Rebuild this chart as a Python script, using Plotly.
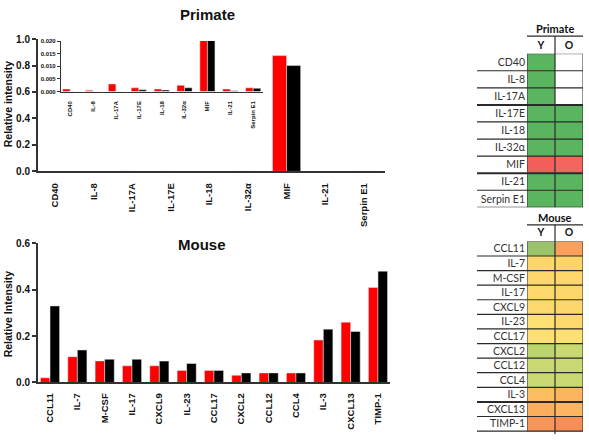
import plotly.graph_objects as go

W, H = 589, 440

# ---------------- data ----------------
primate_cats = ["CD40", "IL-8", "IL-17A", "IL-17E", "IL-18", "IL-32α", "MIF", "IL-21", "Serpin E1"]
primate_young = [0.0010, 0.0005, 0.0030, 0.0015, 0.0010, 0.0025, 0.875, 0.0010, 0.0015]
primate_old = [0.0, 0.0, 0.0, 0.0007, 0.0006, 0.0015, 0.800, 0.0003, 0.0013]

mouse_cats = ["CCL11", "IL-7", "M-CSF", "IL-17", "CXCL9", "IL-23", "CCL17",
              "CXCL2", "CCL12", "CCL4", "IL-3", "CXCL13", "TIMP-1"]
mouse_young = [0.020, 0.111, 0.093, 0.072, 0.072, 0.052, 0.052, 0.031, 0.041, 0.041, 0.183, 0.260, 0.410]
mouse_old = [0.330, 0.140, 0.100, 0.100, 0.092, 0.082, 0.052, 0.041, 0.041, 0.041, 0.230, 0.220, 0.480]

group_cols = ["Y", "O"]

RED, BLACK = "#ff0000", "#000000"
AX = "#333333"
BAR_FONT = "Liberation Sans"
TAB_FONT = "Lato"


def px_x(p):
    return p / W


def px_y(p):
    return 1 - p / H


fig = go.Figure()


def add_pair(cats, young, old, xa, ya, w):
    fig.add_trace(go.Bar(x=cats, y=young, marker_color=RED, width=w, offset=-w,
                         xaxis=xa, yaxis=ya, showlegend=False))
    fig.add_trace(go.Bar(x=cats, y=old, marker_color=BLACK, width=w, offset=0,
                         xaxis=xa, yaxis=ya, showlegend=False))


add_pair(primate_cats, primate_young, primate_old, "x", "y", 0.365)
add_pair(primate_cats, primate_young, primate_old, "x2", "y2", 0.33)
add_pair(mouse_cats, mouse_young, mouse_old, "x3", "y3", 0.35)

# ---------------- heatmap tables ----------------
prim_z = [[(v if v > 0 else None) for v in pair] for pair in zip(primate_young, primate_old)]
fig.add_trace(go.Heatmap(
    x=group_cols, y=primate_cats, z=prim_z, xaxis="x4", yaxis="y4",
    zmin=0, zmax=max(primate_young),
    colorscale=[[0, "#5ab65e"], [0.05, "#5ab65e"], [0.9, "#f3675e"], [1, "#f25f5a"]],
    showscale=False, hoverinfo="skip"))

mouse_z = [list(pair) for pair in zip(mouse_young, mouse_old)]
lo, hi = min(mouse_young + mouse_old), max(mouse_young + mouse_old)
fig.add_trace(go.Heatmap(
    x=group_cols, y=mouse_cats, z=mouse_z, xaxis="x5", yaxis="y5",
    zmin=lo, zmax=hi,
    colorscale=[[0, "#9bc46a"], [0.024, "#bcd46c"], [0.046, "#c9d870"], [0.06, "#fde272"],
                [0.11, "#fdd96b"], [0.26, "#fdd468"], [0.354, "#fdbe62"], [0.52, "#fbae5e"],
                [0.674, "#f9a05c"], [1, "#f88e57"]],
    showscale=False, hoverinfo="skip"))

bar_x_common = dict(type="category", showline=True, linecolor=AX, linewidth=2, ticks="",
                    tickangle=-90, showgrid=False, zeroline=False, fixedrange=True)
bar_y_common = dict(showline=True, linecolor=AX, linewidth=2, ticks="outside", ticklen=4,
                    tickwidth=1.5, tickcolor=AX, showgrid=False, zeroline=False, tickformat=".1f")

layout = dict(
    width=W, height=H, margin=dict(l=0, r=0, t=0, b=0),
    paper_bgcolor="white", plot_bgcolor="rgba(0,0,0,0)", barmode="overlay",
    font=dict(family=BAR_FONT, color="#222"),
    xaxis=dict(domain=[px_x(38), px_x(385)], anchor="y", range=[-0.44, 8.55],
               tickfont=dict(size=9.5, weight="bold", color="#111"), ticklabelstandoff=6,
               **bar_x_common),
    yaxis=dict(domain=[px_y(170), px_y(34)], anchor="x", range=[0, 1.0], dtick=0.2,
               tickfont=dict(size=10, weight="bold", color="#111"), **bar_y_common),
    xaxis2=dict(domain=[px_x(61), px_x(263)], anchor="y2", range=[-0.4, 8.43],
                tickfont=dict(size=6, weight="bold", color="#111"), ticklabelstandoff=6,
                **{**bar_x_common, "linewidth": 1.2}),
    yaxis2=dict(domain=[px_y(88), px_y(36)], anchor="x2", range=[0, 0.02], dtick=0.005,
                tickfont=dict(size=6, weight="bold", color="#111"),
                **{**bar_y_common, "linewidth": 1.2, "ticklen": 3, "tickwidth": 1, "tickformat": ".3f"}),
    xaxis3=dict(domain=[px_x(38), px_x(390)], anchor="y3", range=[-0.44, 12.44],
                tickfont=dict(size=9.5, weight="bold", color="#111"), ticklabelstandoff=5,
                **bar_x_common),
    yaxis3=dict(domain=[px_y(387), px_y(244)], anchor="x3", range=[0, 0.6], dtick=0.2,
                tickfont=dict(size=10, weight="bold", color="#111"), **bar_y_common),
    xaxis4=dict(domain=[px_x(527), px_x(583)], anchor="y4", side="top", type="category",
                range=[-0.5, 1.5], showline=False, ticks="", showgrid=False,
                tickfont=dict(family=TAB_FONT, size=10.5, weight="bold", color="#111"),
                ticklabelstandoff=2, fixedrange=True),
    yaxis4=dict(domain=[px_y(207), px_y(49)], anchor="x4", type="category",
                range=[8.5, -0.5], showline=False, ticks="", showgrid=False,
                tickfont=dict(family=TAB_FONT, size=10.5, color="#333"),
                ticklabelstandoff=1, fixedrange=True),
    xaxis5=dict(domain=[px_x(527), px_x(583)], anchor="y5", side="top", type="category",
                range=[-0.5, 1.5], showline=False, ticks="", showgrid=False,
                tickfont=dict(family=TAB_FONT, size=10.5, weight="bold", color="#111"),
                ticklabelstandoff=2, fixedrange=True),
    yaxis5=dict(domain=[0, px_y(242)], anchor="x5", type="category",
                range=[12.7, -0.5], showline=False, ticks="", showgrid=False,
                tickfont=dict(family=TAB_FONT, size=10.5, color="#333"),
                ticklabelstandoff=1, fixedrange=True),
)
fig.update_layout(**layout)


def ann(text, x, y, size, family, angle=0):
    return dict(text=text, x=px_x(x), y=px_y(y), xref="paper", yref="paper",
                xanchor="center", yanchor="middle", showarrow=False, textangle=angle,
                font=dict(size=size, family=family, color="#111"))


annotations = [
    ann("<b>Primate</b>", 207, 9, 15, BAR_FONT),
    ann("<b>Mouse</b>", 202, 245, 15, BAR_FONT),
    ann("<b>Relative intensity</b>", 8, 101, 10.5, BAR_FONT, -90),
    ann("<b>Relative Intensity</b>", 8, 317, 10.5, BAR_FONT, -90),
    ann("<b>Primate</b>", 555, 23, 11, TAB_FONT),
    ann("<b>Mouse</b>", 555, 217, 11, TAB_FONT),
]
fig.update_layout(annotations=annotations)

shapes = []
LINE = "#2a2a2a"


def table_lines(n, xa, ya, header_y, thick):
    for i in range(n):
        shapes.append(dict(type="line", xref="paper", yref=ya, x0=px_x(477), x1=px_x(583),
                           y0=i + 0.5, y1=i + 0.5,
                           line=dict(color=LINE, width=2 if i in thick else 1.2)))
    shapes.append(dict(type="line", xref=xa, yref=ya, x0=-0.5, x1=1.5, y0=-0.5, y1=-0.5,
                       line=dict(color=LINE, width=1)))
    # header underline
    shapes.append(dict(type="line", xref="paper", yref="paper", x0=px_x(527), x1=px_x(583),
                       y0=header_y, y1=header_y, line=dict(color=LINE, width=1.2)))
    # column separators
    shapes.append(dict(type="line", xref=xa, yref="paper", x0=0.5, x1=0.5,
                       y0=fig.layout[ya.replace("y", "yaxis")].domain[0], y1=header_y,
                       line=dict(color=LINE, width=1.2)))
    for xv in (-0.5, 1.5):
        shapes.append(dict(type="line", xref=xa, yref=ya, x0=xv, x1=xv, y0=-0.5, y1=n - 0.5,
                           line=dict(color=LINE, width=1)))


table_lines(len(primate_cats), "x4", "y4", px_y(31), thick={2, 6})
table_lines(len(mouse_cats), "x5", "y5", px_y(225), thick={10})
fig.update_layout(shapes=shapes)

fig.write_html("out.html")
